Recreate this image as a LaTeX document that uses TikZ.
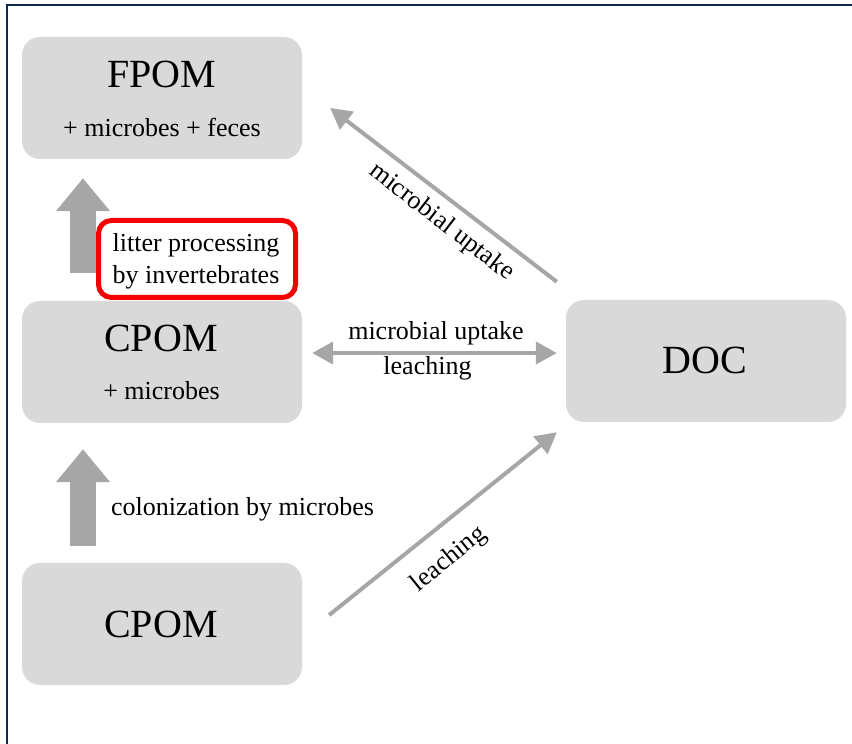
\documentclass[tikz,border=0pt]{standalone}
\usepackage{fontspec}
\setmainfont{Liberation Serif}
\usetikzlibrary{arrows.meta,positioning}
\definecolor{boxgray}{RGB}{217,217,217}
\definecolor{arrowgray}{RGB}{166,166,166}
\definecolor{framenavy}{RGB}{20,36,84}
\definecolor{markred}{RGB}{245,0,0}

\begin{document}
\begin{tikzpicture}[x=1pt,y=1pt,
  pool/.style={rectangle,rounded corners=18pt,fill=boxgray,minimum width=280pt,minimum height=122pt,inner sep=0pt},
  bigtxt/.style={font=\fontsize{40}{44}\selectfont,inner sep=0pt},
  smalltxt/.style={font=\fontsize{26}{32}\selectfont,inner sep=0pt},
  flow/.style={draw=arrowgray,line width=4pt,-{Triangle[length=21pt,width=22pt]}},
  twoway/.style={draw=arrowgray,line width=4pt,{Triangle[length=21pt,width=22pt]}-{Triangle[length=21pt,width=22pt]}},
  bigflow/.style={draw=arrowgray,line width=26pt,-{Triangle[length=33pt,width=52pt]}}]
  \useasboundingbox (0,0) rectangle (852,744);
  \draw[framenavy,line width=2.5pt] (7,0) -- (7,739) -- (852,739);

  % pools
  \node[pool] (fpom)    at (162,646) {};
  \node[pool] (cpom)    at (162,382) {};
  \node[pool] (cpomlow) at (162,120) {};
  \node[pool] (doc)     at (706,383) {};

  \node[bigtxt,anchor=base]   (fpomname)    at (161.5,656) {FPOM};
  \node[smalltxt,anchor=base] (fpomsub)     at (162,607)   {+ microbes + feces};
  \node[bigtxt,anchor=base]   (cpomname)    at (161,392)   {CPOM};
  \node[smalltxt,anchor=base] (cpomsub)     at (161.5,344) {+ microbes};
  \node[bigtxt,anchor=base]   (cpomlowname) at (161,106)   {CPOM};
  \node[bigtxt,anchor=base]   (docname)     at (705,370)   {DOC};

  % transfers between pools
  \draw[bigflow] ([shift={(-79,28)}]cpom.north) -- ([shift={(-79,-19)}]fpom.south);
  \draw[bigflow] ([shift={(-79,17)}]cpomlow.north) -- ([shift={(-79,-26)}]cpom.south);
  \draw[flow] ([shift={(-9,18)}]doc.north west) -- ([shift={(28,-10)}]fpom.east);
  \draw[twoway] ([shift={(10,9)}]cpom.east) -- ([shift={(-9,8)}]doc.west);
  \draw[flow] ([shift={(27,9)}]cpomlow.east) -- ([shift={(-9,-10)}]doc.south west);

  \node[draw=markred,line width=5pt,fill=white,rounded corners=13pt,minimum width=197pt,minimum height=77pt] (litter) at (197,485) {};
  \node[smalltxt,align=left] (littertxt) at (196,483) {litter processing\\by invertebrates};

  \node[smalltxt,anchor=base]      (uptakemid)  at (436,404)   {microbial uptake};
  \node[smalltxt,anchor=base]      (leachmid)   at (427.5,369) {leaching};
  \node[smalltxt,anchor=base west] (colon)      at (111,228)   {colonization by microbes};
  \node[smalltxt,rotate=-37.6]     (uptakediag) at (441.5,521.5) {microbial uptake};
  \node[smalltxt,rotate=39]        (leachdiag)  at (449,184.5) {leaching};
\end{tikzpicture}
\end{document}
